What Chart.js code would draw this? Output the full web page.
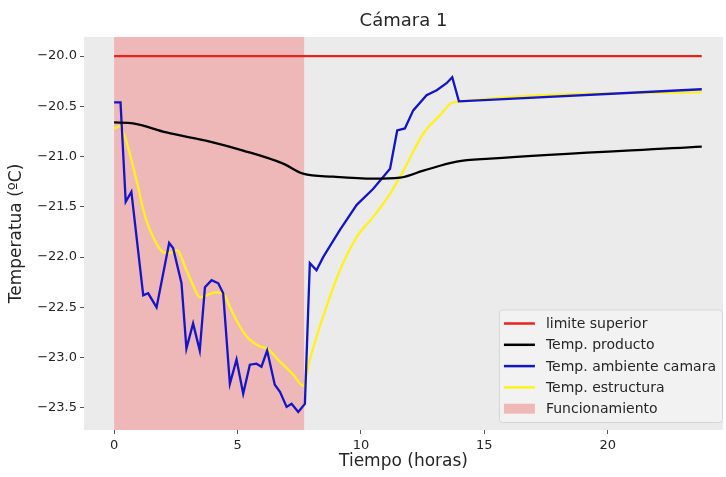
<!DOCTYPE html>
<html lang="es">
<head>
<meta charset="utf-8">
<title>Cámara 1</title>
<script src="https://cdn.jsdelivr.net/npm/chart.js@4.4.1/dist/chart.umd.min.js"></script>
<style>
    html, body { margin: 0; padding: 0; background: #ffffff; }
    #grafico { display: block; }
</style>
</head>
<body>
<canvas id="grafico" width="726" height="477"></canvas>
<script>
// Datos (tiempo en horas, temperatura en ºC)
const tiempoLimite = [0, 23.81];
const limiteSuperior = [-20.0, -20.0];

const tiempoProducto = [0, 0.77, 2.12, 3.88, 5.23, 6.85, 7.66, 8.88, 10.5, 11.58, 12.53, 13.88, 15.23, 23.81];
const tempProducto = [-20.66, -20.67, -20.76, -20.85, -20.94, -21.07, -21.17, -21.20, -21.22, -21.21, -21.14, -21.05, -21.02, -20.90];

const tiempoAmbiente = [0, 0.26, 0.47, 0.70, 1.18, 1.38, 1.72, 2.23, 2.39, 2.73, 2.93, 3.20, 3.47, 3.68, 3.95, 4.22, 4.42,
    4.69, 4.96, 5.23, 5.50, 5.77, 5.97, 6.20, 6.51, 6.72, 6.99, 7.19, 7.46, 7.73, 7.93, 8.20, 8.47, 9.15, 9.83, 10.50,
    11.18, 11.47, 11.78, 12.12, 12.66, 13.07, 13.47, 13.70, 13.97, 23.81];
const tempAmbiente = [-20.46, -20.46, -21.45, -21.35, -22.38, -22.36, -22.50, -21.86, -21.91, -22.26, -22.91, -22.66, -22.93, -22.30, -22.23, -22.26, -22.36,
    -23.26, -23.02, -23.36, -23.07, -23.06, -23.09, -22.93, -23.27, -23.34, -23.49, -23.46, -23.54, -23.46, -22.06, -22.13, -22.00, -21.73, -21.48, -21.32,
    -21.12, -20.74, -20.72, -20.54, -20.39, -20.34, -20.27, -20.21, -20.45, -20.33];

const tiempoEstructura = [0, 0.23, 0.50, 0.77, 1.00, 1.18, 1.40, 1.58, 1.80, 1.99, 2.25, 2.53, 2.93, 3.20, 3.47, 3.75, 4.10, 4.42,
    4.70, 4.96, 5.37, 5.91, 6.20, 6.72, 7.26, 7.66, 7.93, 8.47, 9.15, 9.83, 10.50, 11.18, 11.72, 12.53, 13.20, 13.74, 23.81];
const tempEstructura = [-20.72, -20.70, -20.85, -21.10, -21.33, -21.53, -21.70, -21.80, -21.90, -21.95, -21.96, -21.93, -22.13, -22.28, -22.40, -22.38, -22.35, -22.36,
    -22.50, -22.63, -22.79, -22.89, -22.91, -23.04, -23.17, -23.28, -23.02, -22.59, -22.13, -21.80, -21.60, -21.37, -21.14, -20.77, -20.59, -20.46, -20.36];

// Periodo de funcionamiento (sombreado)
const inicioFuncionamiento = 0;
const finFuncionamiento = 7.70;

// Ticks de los ejes
const ticksX = [0, 5, 10, 15, 20];
const ticksY = [-20.0, -20.5, -21.0, -21.5, -22.0, -22.5, -23.0, -23.5];

const colorSombra = '#efb8b8';

function puntos(tiempos, valores) {
    return tiempos.map((t, i) => ({ x: t, y: valores[i] }));
}

function formatoY(v) {
    return (v < 0 ? '\u2212' : '') + Math.abs(v).toFixed(1);
}

Chart.defaults.font.family = '"DejaVu Sans", sans-serif';
Chart.defaults.color = '#262626';

// Fondo gris del área de trazado
const fondoPlugin = {
    id: 'fondo',
    beforeDraw(chart) {
        const { ctx, chartArea } = chart;
        ctx.save();
        ctx.fillStyle = '#ebebeb';
        ctx.fillRect(chartArea.left, chartArea.top, chartArea.right - chartArea.left, chartArea.bottom - chartArea.top);
        ctx.restore();
    }
};

// Franja de funcionamiento
const franjaPlugin = {
    id: 'franja',
    beforeDatasetsDraw(chart) {
        const { ctx, chartArea, scales } = chart;
        const x0 = scales.x.getPixelForValue(inicioFuncionamiento);
        const x1 = scales.x.getPixelForValue(finFuncionamiento);
        ctx.save();
        ctx.fillStyle = colorSombra;
        ctx.fillRect(x0, chartArea.top, x1 - x0, chartArea.bottom - chartArea.top);
        ctx.restore();
    }
};

// Leyenda dentro del gráfico, abajo a la derecha
const leyendaPlugin = {
    id: 'leyendaInterna',
    afterDatasetsDraw(chart) {
        const { ctx, chartArea } = chart;
        const entradas = chart.data.datasets.map(d => ({ texto: d.label, color: d.borderColor, tipo: 'linea' }));
        entradas.push({ texto: 'Funcionamiento', color: colorSombra, tipo: 'parche' });

        const fuente = '14px "DejaVu Sans", sans-serif';
        ctx.save();
        ctx.font = fuente;
        const anchoTexto = Math.max(...entradas.map(e => ctx.measureText(e.texto).width));
        const alto = 21.3;
        const anchoCaja = 5 + 31 + 11 + anchoTexto + 6;
        const altoCaja = entradas.length * alto + 6;
        const derecha = chartArea.right - 1;
        const abajo = chartArea.bottom - 8;
        const izq = derecha - anchoCaja;
        const arriba = abajo - altoCaja;

        ctx.fillStyle = '#f2f2f2';
        ctx.strokeStyle = '#d6d6d6';
        ctx.lineWidth = 1;
        ctx.beginPath();
        ctx.roundRect(izq + 0.5, arriba + 0.5, anchoCaja, altoCaja, 3);
        ctx.fill();
        ctx.stroke();

        ctx.textBaseline = 'middle';
        ctx.textAlign = 'left';
        entradas.forEach((e, i) => {
            const y = arriba + 14 + i * alto;
            if (e.tipo === 'linea') {
                ctx.strokeStyle = e.color;
                ctx.lineWidth = 2.5;
                ctx.beginPath();
                ctx.moveTo(izq + 5, y);
                ctx.lineTo(izq + 36, y);
                ctx.stroke();
            } else {
                ctx.fillStyle = e.color;
                ctx.fillRect(izq + 5, y - 5, 31, 10);
            }
            ctx.fillStyle = '#262626';
            ctx.fillText(e.texto, izq + 47, y + 1);
        });
        ctx.restore();
    }
};

function serie(label, tiempos, valores, color, suave) {
    return {
        label: label,
        data: puntos(tiempos, valores),
        borderColor: color,
        backgroundColor: color,
        borderWidth: 2.3,
        pointRadius: 0,
        tension: 0,
        cubicInterpolationMode: suave ? 'monotone' : 'default',
        fill: false
    };
}

const ctx = document.getElementById('grafico').getContext('2d');

new Chart(ctx, {
    type: 'line',
    data: {
        datasets: [
            serie('limite superior', tiempoLimite, limiteSuperior, '#e8231f', false),
            serie('Temp. producto', tiempoProducto, tempProducto, '#000000', true),
            serie('Temp. ambiente camara', tiempoAmbiente, tempAmbiente, '#1414c8', false),
            serie('Temp. estructura', tiempoEstructura, tempEstructura, '#fff21c', true)
        ]
    },
    options: {
        responsive: false,
        animation: false,
        devicePixelRatio: 1,
        layout: {
            padding: { top: 0, right: 3, bottom: 0, left: 0 }
        },
        plugins: {
            legend: { display: false },
            tooltip: { enabled: false },
            title: {
                display: true,
                text: 'Cámara 1',
                fullSize: false,
                color: '#262626',
                font: { size: 18, weight: 'normal' },
                padding: { top: 11, bottom: 4.4 }
            }
        },
        scales: {
            x: {
                type: 'linear',
                min: -1.22,
                max: 24.67,
                afterBuildTicks(scale) {
                    scale.ticks = ticksX.map(v => ({ value: v }));
                },
                afterFit(scale) {
                    scale.height = 47;
                },
                border: { display: false },
                grid: {
                    drawOnChartArea: false,
                    drawTicks: true,
                    tickLength: 4,
                    tickColor: '#555555'
                },
                ticks: {
                    font: { size: 13 },
                    padding: 4,
                    maxRotation: 0,
                    callback: v => String(v)
                },
                title: {
                    display: true,
                    text: 'Tiempo (horas)',
                    font: { size: 17 },
                    padding: { top: 0, bottom: 5 }
                }
            },
            y: {
                type: 'linear',
                min: -23.72,
                max: -19.81,
                afterBuildTicks(scale) {
                    scale.ticks = ticksY.map(v => ({ value: v }));
                },
                afterFit(scale) {
                    scale.width = 84;
                },
                border: { display: false },
                grid: {
                    drawOnChartArea: false,
                    drawTicks: true,
                    tickLength: 4,
                    tickColor: '#555555'
                },
                ticks: {
                    font: { size: 13 },
                    padding: 3,
                    callback: v => formatoY(v)
                },
                title: {
                    display: true,
                    text: 'Temperatua (ºC)',
                    font: { size: 17 },
                    padding: { top: 6, bottom: 0 }
                }
            }
        }
    },
    plugins: [fondoPlugin, franjaPlugin, leyendaPlugin]
});
</script>
</body>
</html>
